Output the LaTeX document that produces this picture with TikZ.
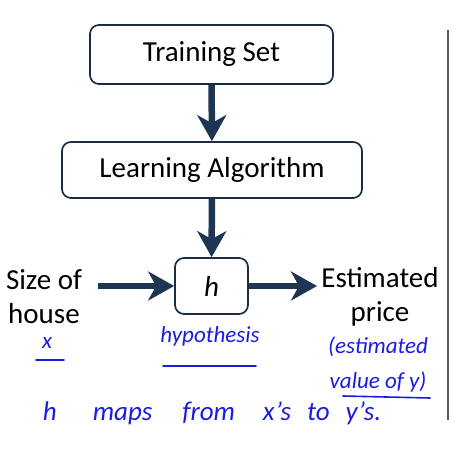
\documentclass[tikz,border=0pt]{standalone}
\usepackage{fontspec}
\setmainfont{Carlito}
\usetikzlibrary{arrows.meta,positioning,calc}
\definecolor{cNavy}{HTML}{1B2D45}
\definecolor{cArrow}{HTML}{1E3653}
\definecolor{cPen}{HTML}{1C1CE0}
\definecolor{cRule}{HTML}{5A5A5A}
\tikzset{
  cbox/.style={draw=cNavy,fill=white,rounded corners=9pt,line width=1.7pt,align=center,font=\fontsize{29}{34}\selectfont,inner sep=0pt,text=black},
  arr/.style={-{Stealth[length=26pt,width=29pt,inset=8pt]},line width=6.5pt,color=cArrow},
  lbl/.style={font=\fontsize{29}{34}\selectfont,align=center,inner sep=0pt,text=black},
  pen/.style={font=\fontsize{23}{35}\selectfont\itshape,align=center,inner sep=0pt,text=cPen},
  uline/.style={cPen,line width=1.6pt,line cap=round},
}

\begin{document}
\begin{tikzpicture}[x=1pt,y=-1pt]
  \useasboundingbox (0,0) rectangle (465,449);
  % boxes
  \node[cbox,minimum width=243pt,minimum height=59pt] (train) at (211.5,54.5) {Training Set};
  \node[cbox,minimum width=300pt,minimum height=56pt] (learn) at (212,170) {Learning Algorithm};
  \node[cbox,minimum width=73pt,minimum height=56pt] (hyp) at (211.5,286) {\itshape h};
  % inputs and outputs
  \node[lbl] (size) at (44,297) {Size of\\house};
  \node[lbl] (price) at (380,297) {Estimated\\price};
  \coordinate (in) at (98,286);
  \coordinate (out) at (317,286);
  \draw[arr] (train) -- (learn);
  \draw[arr] (learn) -- (hyp);
  \draw[arr] (in) -- (hyp);
  \draw[arr] (hyp) -- (out);
  % pen notes
  \node[pen,anchor=base] (x) at (47,348) {x};
  \node[pen] (hnote) at (210,336) {hypothesis};
  \node[pen] (est) at (378,364) {(estimated\\value of y)};
  \node[pen,font=\fontsize{27}{30}\selectfont\itshape] (maps) at (212,413) {h\hspace{36pt}maps\hspace{30pt}from\hspace{28pt}x's\hspace{16pt}to\hspace{16pt}y's.};
  \draw[uline] (36,360) -- (64,360);
  \draw[uline] (163,366) -- (256,366);
  \draw[uline] (343,396) -- (430,398);
  % margin rule
  \draw[cRule,line width=1.5pt] (448,30) -- (448,420);
\end{tikzpicture}
\end{document}
